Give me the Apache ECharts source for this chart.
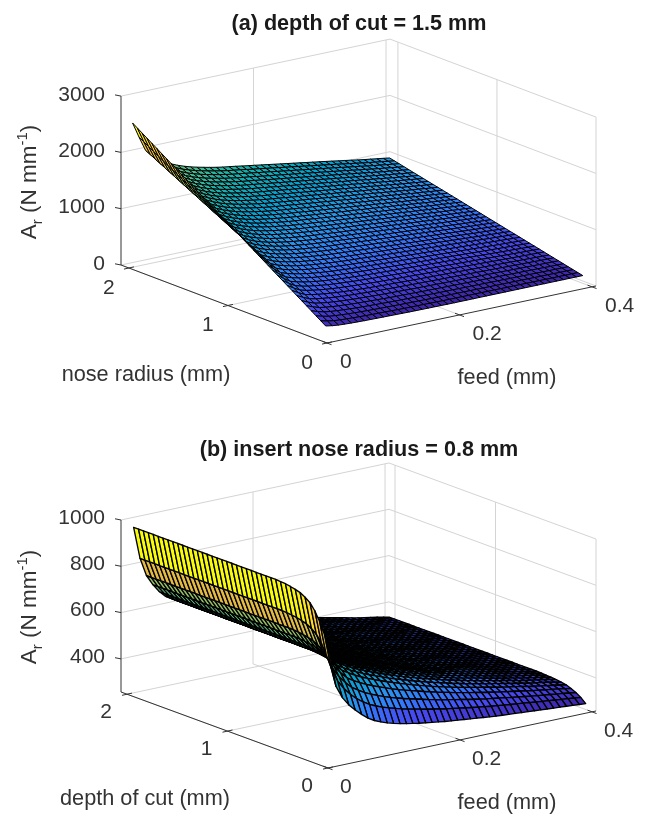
<!DOCTYPE html>
<html><head><meta charset="utf-8"><style>html,body{margin:0;padding:0;background:#fff}#c{width:646px;height:816px;filter:blur(0.5px)}</style>
<script src="https://cdn.jsdelivr.net/npm/echarts@6/dist/echarts.min.js"></script></head><body><div id="c"></div>
<script>
const feedTicks=[0,0.2,0.4];
const radiusTicks=[0,1,2];
const depthTicks=[0,1,2];
const forceTicksA=[0,1000,2000,3000];
const forceTicksB=[400,600,800,1000];
const titleA='(a) depth of cut = 1.5 mm';
const titleB='(b) insert nose radius = 0.8 mm';
const feedGrid=[0.0100,0.0197,0.0294,0.0391,0.0488,0.0585,0.0682,0.0779,0.0876,0.0973,0.1070,0.1167,0.1264,0.1361,0.1458,0.1555,0.1652,0.1749,0.1846,0.1943,0.2040,0.2137,0.2234,0.2331,0.2428,0.2525,0.2622,0.2719,0.2816,0.2913,0.3010,0.3107,0.3204,0.3301,0.3398,0.3495,0.3592,0.3689,0.3786,0.3883,0.3980];
const radiusGrid=[0.080,0.129,0.178,0.226,0.275,0.324,0.373,0.421,0.470,0.519,0.568,0.616,0.665,0.714,0.763,0.811,0.860,0.909,0.958,1.006,1.055,1.104,1.153,1.201,1.250,1.299,1.348,1.396,1.445,1.494,1.543,1.591,1.640,1.689,1.738,1.786,1.835,1.884,1.933,1.981,2.030];
const depthGrid=[0.050,0.099,0.148,0.196,0.245,0.294,0.343,0.391,0.440,0.489,0.538,0.586,0.635,0.684,0.733,0.781,0.830,0.879,0.928,0.976,1.025,1.074,1.123,1.171,1.220,1.269,1.318,1.366,1.415,1.464,1.513,1.561,1.610,1.659,1.708,1.756,1.805,1.854,1.903,1.951,2.000];
// surface (a): one list per feed value, running along nose radius
const surfaceA=[
[224,282,339,397,455,512,570,628,685,743,801,858,916,974,1031,1089,1147,1204,1262,1320,1378,1435,1493,1551,1608,1666,1724,1781,1839,1897,1954,2012,2070,2127,2185,2243,2300,2358,2416,2473,2531],
[205,256,308,359,410,461,513,564,615,666,718,769,820,872,923,974,1025,1077,1128,1179,1231,1282,1333,1384,1436,1487,1538,1589,1641,1692,1743,1795,1846,1897,1948,2000,2051,2102,2154,2205,2256],
[192,237,282,328,373,418,463,508,554,599,644,689,734,780,825,870,915,960,1006,1051,1096,1141,1186,1232,1277,1322,1367,1412,1458,1503,1548,1593,1638,1684,1729,1774,1819,1864,1910,1955,2000],
[185,227,270,312,355,397,439,482,524,566,609,651,694,736,778,821,863,905,948,990,1033,1075,1117,1160,1202,1244,1287,1329,1372,1414,1456,1499,1541,1583,1626,1668,1711,1753,1795,1838,1880],
[180,220,261,301,341,381,422,462,502,542,583,623,663,703,744,784,824,864,905,945,985,1025,1066,1106,1146,1186,1227,1267,1307,1347,1388,1428,1468,1508,1549,1589,1629,1669,1710,1750,1790],
[176,215,253,292,330,369,408,446,485,523,562,601,639,678,716,755,794,832,871,909,948,987,1025,1064,1102,1141,1180,1218,1257,1295,1334,1373,1411,1450,1488,1527,1566,1604,1643,1681,1720],
[173,210,247,285,322,359,396,433,470,508,545,582,619,656,693,731,768,805,842,879,917,954,991,1028,1065,1102,1140,1177,1214,1251,1288,1325,1363,1400,1437,1474,1511,1548,1586,1623,1660],
[170,206,242,278,314,350,386,422,458,494,530,566,602,638,674,710,746,782,818,854,890,926,962,998,1034,1070,1106,1142,1178,1214,1250,1286,1322,1358,1394,1430,1466,1502,1538,1574,1610],
[168,203,238,273,308,343,378,413,448,483,519,554,589,624,659,694,729,764,799,834,869,904,939,974,1009,1044,1079,1114,1149,1184,1220,1255,1290,1325,1360,1395,1430,1465,1500,1535,1570],
[166,200,234,269,303,337,371,405,440,474,508,542,576,611,645,679,713,747,782,816,850,884,918,953,987,1021,1055,1089,1124,1158,1192,1226,1260,1295,1329,1363,1397,1431,1466,1500,1534],
[164,198,231,265,298,332,365,399,432,466,499,533,566,600,633,667,700,734,767,801,834,868,901,935,968,1002,1035,1069,1102,1136,1169,1203,1236,1270,1303,1337,1370,1404,1437,1471,1504],
[162,195,228,261,294,327,359,392,425,458,491,524,557,590,623,656,688,721,754,787,820,853,886,919,952,985,1017,1050,1083,1116,1149,1182,1215,1248,1281,1314,1346,1379,1412,1445,1478],
[160,192,225,257,289,322,354,386,418,451,483,515,548,580,612,645,677,709,741,774,806,838,871,903,935,968,1000,1032,1064,1097,1129,1161,1194,1226,1258,1291,1323,1355,1387,1420,1452],
[158,190,222,253,285,317,349,381,412,444,476,508,540,571,603,635,667,699,730,762,794,826,858,889,921,953,985,1017,1048,1080,1112,1144,1176,1207,1239,1271,1303,1335,1366,1398,1430],
[157,188,220,251,282,314,345,376,407,439,470,501,533,564,595,627,658,689,720,752,783,814,846,877,908,940,971,1002,1033,1065,1096,1127,1159,1190,1221,1253,1284,1315,1346,1378,1409],
[156,187,218,249,280,311,341,372,403,434,465,496,527,558,589,620,650,681,712,743,774,805,836,867,898,929,959,990,1021,1052,1083,1114,1145,1176,1207,1238,1268,1299,1330,1361,1392],
[155,186,216,247,277,308,338,369,399,430,460,491,521,552,582,613,643,674,704,735,765,796,826,857,887,918,948,979,1009,1040,1070,1101,1131,1162,1192,1223,1253,1284,1314,1345,1375],
[154,184,214,244,274,304,334,364,394,424,455,485,515,545,575,605,635,665,695,725,755,785,815,845,875,905,935,965,995,1025,1056,1086,1116,1146,1176,1206,1236,1266,1296,1326,1356],
[153,183,212,242,271,301,331,360,390,419,449,479,508,538,567,597,627,656,686,715,745,775,804,834,863,893,923,952,982,1011,1041,1071,1100,1130,1159,1189,1219,1248,1278,1307,1337],
[152,181,210,240,269,298,327,356,386,415,444,473,502,532,561,590,619,648,678,707,736,765,794,824,853,882,911,940,970,999,1028,1057,1086,1116,1145,1174,1203,1232,1262,1291,1320],
[152,181,210,238,267,296,325,353,382,411,440,468,497,526,555,583,612,641,670,698,727,756,785,813,842,871,900,928,957,986,1015,1043,1072,1101,1130,1158,1187,1216,1245,1273,1302],
[152,180,209,237,265,294,322,350,378,407,435,463,492,520,548,577,605,633,661,690,718,746,775,803,831,860,888,916,944,973,1001,1029,1058,1086,1114,1143,1171,1199,1227,1256,1284],
[152,180,208,236,263,291,319,347,375,403,431,458,486,514,542,570,598,625,653,681,709,737,765,793,820,848,876,904,932,960,988,1015,1043,1071,1099,1127,1155,1182,1210,1238,1266],
[152,179,207,234,262,289,316,344,371,399,426,453,481,508,536,563,590,618,645,673,700,727,755,782,810,837,864,892,919,947,974,1001,1029,1056,1084,1111,1138,1166,1193,1221,1248],
[152,179,206,233,260,287,314,341,368,395,422,448,475,502,529,556,583,610,637,664,691,718,745,772,799,826,853,880,907,934,961,987,1014,1041,1068,1095,1122,1149,1176,1203,1230],
[152,179,205,232,258,285,311,338,364,391,417,444,470,497,523,550,576,603,629,656,682,709,735,762,788,815,841,868,894,921,947,974,1000,1027,1053,1080,1106,1133,1159,1186,1212],
[152,178,204,230,256,282,308,334,360,386,413,439,465,491,517,543,569,595,621,647,673,699,725,751,777,803,829,855,881,907,934,960,986,1012,1038,1064,1090,1116,1142,1168,1194],
[152,178,203,229,254,280,306,331,357,382,408,434,459,485,510,536,562,587,613,638,664,690,715,741,766,792,818,843,869,894,920,946,971,997,1022,1048,1074,1099,1125,1150,1176],
[152,177,202,227,253,278,303,328,353,378,404,429,454,479,504,529,554,580,605,630,655,680,705,730,756,781,806,831,856,881,907,932,957,982,1007,1032,1057,1083,1108,1133,1158],
[152,177,201,226,251,276,300,325,350,374,399,424,448,473,498,523,547,572,597,621,646,671,695,720,745,770,794,819,844,868,893,918,942,967,992,1017,1041,1066,1091,1115,1140],
[152,176,201,225,249,273,298,322,346,370,395,419,443,467,492,516,540,564,589,613,637,661,686,710,734,758,783,807,831,855,880,904,928,952,977,1001,1025,1049,1074,1098,1122],
[152,176,200,223,247,271,295,319,342,366,390,414,438,461,485,509,533,557,580,604,628,652,676,699,723,747,771,795,818,842,866,890,914,937,961,985,1009,1033,1056,1080,1104],
[152,175,199,222,245,269,292,315,338,362,385,408,432,455,478,502,525,548,571,595,618,641,665,688,711,735,758,781,804,828,851,874,898,921,944,968,991,1014,1037,1061,1084],
[152,175,198,221,243,266,289,312,335,358,381,403,426,449,472,495,518,540,563,586,609,632,655,678,700,723,746,769,792,815,838,860,883,906,929,952,975,997,1020,1043,1066],
[152,174,197,219,242,264,286,309,331,354,376,398,421,443,466,488,510,533,555,578,600,622,645,667,690,712,734,757,779,802,824,846,869,891,914,936,958,981,1003,1026,1048],
[152,174,196,218,240,262,283,305,327,349,371,393,415,437,459,481,502,524,546,568,590,612,634,656,678,700,721,743,765,787,809,831,853,875,897,919,940,962,984,1006,1028],
[152,173,195,216,238,259,281,302,324,345,367,388,409,431,452,474,495,517,538,560,581,602,624,645,667,688,710,731,753,774,796,817,838,860,881,903,924,946,967,989,1010],
[152,173,194,215,236,257,278,299,320,341,363,384,405,426,447,468,489,510,531,552,573,594,615,636,657,678,699,720,741,762,784,805,826,847,868,889,910,931,952,973,994],
[152,173,193,214,234,255,276,296,317,337,358,379,399,420,440,461,482,502,523,543,564,585,605,626,646,667,688,708,729,749,770,791,811,832,852,873,894,914,935,955,976],
[152,172,192,213,233,253,273,293,314,334,354,374,394,415,435,455,475,495,516,536,556,576,596,617,637,657,677,697,718,738,758,778,798,819,839,859,879,899,920,940,960],
[152,172,192,211,231,251,271,290,310,330,350,369,389,409,429,448,468,488,508,527,547,567,587,606,626,646,666,685,705,725,745,764,784,804,824,843,863,883,903,922,942]
];
// surface (b): one list per depth of cut, running along feed; the surface is flat in depth beyond the first rows
const plateauB=[972,832,752,707,671,644,628,613,599,586,574,562,551,540,530,520,510,501,492,483,475,467,459,451,444,437,430,424,417,411,405,399,393,387,381,375,370,365,360,354,348];
const surfaceB=[
[741,590,535,498,470,445,423,407,395,385,377,370,364,359,354,350,346,342,338,335,332,329,326,323,320,317,314,312,310,308,306,304,302,300,298,296,294,292,290,288,286],
[810,663,600,561,530,505,485,469,456,445,436,428,420,413,407,401,395,390,384,379,375,370,366,361,357,353,349,346,342,339,336,333,329,326,323,320,317,314,311,308,305],
[859,713,646,605,573,546,528,512,499,488,477,468,459,451,444,437,430,423,417,410,405,399,394,388,383,378,373,369,365,361,356,352,348,344,340,336,333,329,326,322,318],
[898,755,683,640,607,580,562,547,534,522,511,501,491,482,474,466,458,450,443,436,429,423,416,410,404,399,393,388,383,378,373,369,364,359,354,350,346,342,338,333,328],
[926,784,709,665,631,604,587,572,558,546,535,524,514,504,495,486,477,469,461,453,446,439,432,425,419,413,407,402,396,390,385,380,375,370,364,359,355,350,346,341,336],
[942,801,724,680,645,618,601,586,572,560,548,537,527,516,507,498,489,480,472,464,456,449,442,434,428,421,415,409,403,398,392,387,381,376,370,365,360,356,351,345,340],
[954,813,735,690,655,628,612,597,583,570,558,547,536,526,516,506,497,488,480,471,464,456,448,441,434,427,421,415,408,403,397,391,386,380,374,369,364,359,354,349,343],
[960,820,741,697,661,634,618,603,589,576,564,552,542,531,521,511,502,493,484,476,468,460,452,445,438,431,424,418,412,406,400,394,388,383,377,371,366,361,356,351,345],
[965,825,745,701,665,638,622,607,593,580,568,556,545,535,525,515,505,496,487,479,471,463,455,447,440,433,427,421,414,408,402,396,390,384,379,373,368,363,358,352,346],
[969,828,749,704,668,641,625,610,596,583,571,559,548,537,527,517,508,499,490,481,473,465,457,449,442,435,428,422,415,409,404,398,392,386,380,374,369,364,359,353,347],
[970,830,751,706,670,643,627,612,598,585,573,561,550,539,529,519,509,500,491,482,474,466,458,450,443,436,429,423,416,410,404,398,392,386,380,374,369,364,359,353,348],
plateauB,plateauB,plateauB,plateauB,plateauB,plateauB,plateauB,plateauB,plateauB,plateauB,
plateauB,plateauB,plateauB,plateauB,plateauB,plateauB,plateauB,plateauB,plateauB,plateauB,
plateauB,plateauB,plateauB,plateauB,plateauB,plateauB,plateauB,plateauB,plateauB,plateauB
];

const parula=[[62,38,168],[71,72,240],[51,123,252],[39,151,235],[7,160,207],[26,178,168],[91,190,134],[164,190,90],[230,186,66],[253,199,56],[249,251,14]];
function colorAt(t){t=Math.max(0,Math.min(1,t))*(parula.length-1);const a=Math.min(Math.floor(t),parula.length-2),u=t-a;
  const p=parula[a],q=parula[a+1];return 'rgb('+[0,1,2].map(k=>Math.round(p[k]+(q[k]-p[k])*u)).join(',')+')';}

const FONT='"Liberation Sans",Arial,sans-serif';
const TEXT='#333333', AXIS='#333333', GRID='#d4d4d4';

const panelA={o:[327,343],fv:[269,-57],fMax:0.406,rv:[-206,-78],rMax:2.08,zMin:0,zMax:3000,zs:0.0563,mesh:1,
  zTicks:forceTicksA,rTicks:radiusTicks,fTicks:feedTicks,
  rows:radiusGrid,cols:feedGrid,get:(j,i)=>surfaceA[j][i],
  zLabelDy:-1,rLabel:[-20,20],fLabel:[13,19.5],
  rName:'nose radius (mm)',rNamePos:[146,375],fNamePos:[507,378],yNamePos:[30,182],titlePos:[354,8],title:titleA};
const panelB={o:[328,768],fv:[268,-57],fMax:0.406,rv:[-207,-76],rMax:2.06,zMin:257,zMax:1000,zs:0.2315,mesh:1.35,
  zTicks:forceTicksB,rTicks:depthTicks,fTicks:feedTicks,
  rows:depthGrid,cols:feedGrid,get:(j,i)=>surfaceB[i][j],
  zLabelDy:-2,rLabel:[-21,18],fLabel:[12,19],
  rName:'depth of cut (mm)',rNamePos:[145,799],fNamePos:[507,803],yNamePos:[30,607],titlePos:[354,434],title:titleB};

function proj(p,f,r,z){const a=f/p.fMax,b=r/p.rMax,c=(z-p.zMin)*p.zs;
  return [p.o[0]+a*p.fv[0]+b*p.rv[0], p.o[1]+a*p.fv[1]+b*p.rv[1]-c];}

function frameLines(p){const L=[];const add=(k,a,b)=>L.push([a[0],a[1],b[0],b[1],k]);
  const T=p.zMax,Z=p.zMin,F=p.fMax,R=p.rMax;
  p.zTicks.forEach(z=>{add(0,proj(p,0,R,z),proj(p,F,R,z));add(0,proj(p,F,R,z),proj(p,F,0,z));});
  p.fTicks.forEach(f=>{if(f>0)add(0,proj(p,f,R,Z),proj(p,f,R,T));add(0,proj(p,f,0,Z),proj(p,f,R,Z));});
  p.rTicks.forEach(r=>{add(0,proj(p,F,r,Z),proj(p,F,r,T));if(r>0)add(0,proj(p,0,r,Z),proj(p,F,r,Z));});
  add(1,proj(p,0,R,Z),proj(p,0,R,T));
  add(1,proj(p,0,R,Z),proj(p,0,0,Z));
  add(1,proj(p,0,0,Z),proj(p,F,0,Z));
  p.zTicks.forEach(z=>{const a=proj(p,0,R,z);add(1,[a[0]-6,a[1]-1.2],a);});
  p.rTicks.forEach(r=>{const a=proj(p,0,r,Z);add(1,[a[0]-5,a[1]+1.1],[a[0]+5,a[1]-1.1]);});
  p.fTicks.forEach(f=>{const a=proj(p,f,0,Z);add(1,[a[0]-4.5,a[1]-1.7],[a[0]+4.5,a[1]+1.7]);});
  return L;}

function frameSeries(p){return {type:'custom',coordinateSystem:'cartesian2d',silent:true,animation:false,clip:false,z:1,
  data:frameLines(p),renderItem(params,api){const a=api.coord([api.value(0),api.value(1)]),b=api.coord([api.value(2),api.value(3)]),k=api.value(4);
    return {type:'line',shape:{x1:a[0],y1:a[1],x2:b[0],y2:b[1]},style:{stroke:k?AXIS:GRID,lineWidth:1},z2:k?5:0};}};}

function surfaceSeries(p){const n=p.cols.length,m=p.rows.length,cells=[];
  let lo=Infinity,hi=-Infinity;
  for(let j=0;j<n;j++)for(let i=0;i<m;i++){const v=p.get(j,i);lo=Math.min(lo,v);hi=Math.max(hi,v);}
  for(let j=n-2;j>=0;j--)for(let i=m-2;i>=0;i--)cells.push([j,i]);
  return {type:'custom',coordinateSystem:'cartesian2d',silent:true,animation:false,clip:false,progressive:0,z:2,
    data:cells,renderItem(params,api){const j=api.value(0),i=api.value(1);
      const c=(a,b)=>api.coord(proj(p,p.cols[a],p.rows[b],p.get(a,b)));
      return {type:'polygon',shape:{points:[c(j,i),c(j+1,i),c(j+1,i+1),c(j,i+1)]},
        style:{fill:colorAt((p.get(j,i)-lo)/(hi-lo)),stroke:'#000',lineWidth:p.mesh,lineJoin:'round'}};}};}

function textSeries(p){const items=[];
  const font='21px '+FONT, nameFont='21.7px '+FONT;
  p.zTicks.forEach(z=>{const a=proj(p,0,p.rMax,z);items.push({t:String(z),x:105,y:a[1]+p.zLabelDy,al:'right',f:font});});
  p.rTicks.forEach(r=>{const a=proj(p,0,r,p.zMin);items.push({t:String(r),x:a[0]+p.rLabel[0],y:a[1]+p.rLabel[1],al:'center',f:font});});
  p.fTicks.forEach(f=>{const a=proj(p,f,0,p.zMin);items.push({t:String(f),x:a[0]+p.fLabel[0],y:a[1]+p.fLabel[1],al:'left',f:font});});
  items.push({t:p.rName,x:p.rNamePos[0],y:p.rNamePos[1],al:'center',f:nameFont});
  items.push({t:'feed (mm)',x:p.fNamePos[0],y:p.fNamePos[1],al:'center',f:nameFont});
  return {type:'custom',coordinateSystem:'cartesian2d',silent:true,animation:false,clip:false,z:3,
    data:items.map((_,k)=>[k]),renderItem(params,api){const it=items[api.value(0)];const c=api.coord([it.x,it.y]);
      return {type:'text',x:c[0],y:c[1],style:{text:it.t,font:it.f,fill:TEXT,align:it.al,verticalAlign:'middle'}};}};}

function yNameSeries(p){return {type:'custom',coordinateSystem:'cartesian2d',silent:true,animation:false,clip:false,z:3,
  data:[[p.yNamePos[0],p.yNamePos[1]]],renderItem(params,api){const c=api.coord([api.value(0),api.value(1)]);
    return {type:'text',x:c[0],y:c[1],rotation:Math.PI/2,style:{text:'{n|A}{s|r}{n| (N mm}{u|-1}{n|)}',align:'center',verticalAlign:'middle',
      rich:{n:{font:'22.5px '+FONT,fill:TEXT,lineHeight:30},s:{font:'15px '+FONT,fill:TEXT,lineHeight:30,verticalAlign:'bottom',padding:[6,0,0,0]},u:{font:'15px '+FONT,fill:TEXT,lineHeight:30,verticalAlign:'top',padding:[0,0,6,0]}}}};}};}

const chart=echarts.init(document.getElementById('c'),null,{renderer:'canvas',width:646,height:816});
const panels=[panelA,panelB];
chart.setOption({animation:false,backgroundColor:'#fff',
  title:panels.map(p=>({text:p.title,left:p.titlePos[0],top:p.titlePos[1],textAlign:'center',textStyle:{fontFamily:FONT,fontSize:21.6,fontWeight:'bold',color:'#1a1a1a'}})),
  grid:{left:0,right:0,top:0,bottom:0},
  xAxis:{type:'value',min:0,max:646,show:false},
  yAxis:{type:'value',min:0,max:816,inverse:true,show:false},
  series:panels.flatMap(p=>[frameSeries(p),surfaceSeries(p),textSeries(p),yNameSeries(p)])
});
</script></body></html>
